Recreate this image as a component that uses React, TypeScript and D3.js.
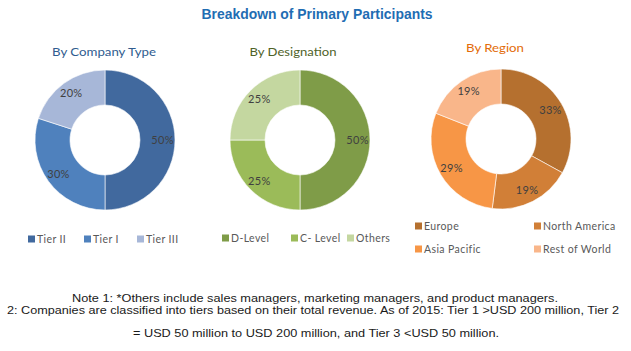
import React from 'react';
import * as d3 from 'd3';

const companyTypes = ['Tier II', 'Tier I', 'Tier III'];
const companyShares = [50, 30, 20];
const designations = ['D-Level', 'C- Level', 'Others'];
const designationShares = [50, 25, 25];
const regions = ['Europe', 'North America', 'Asia Pacific', 'Rest of World'];
const regionShares = [33, 19, 29, 19];

const notes = [
  'Note 1: *Others include sales managers, marketing managers, and product managers.',
  '2: Companies are classified into tiers based on their total revenue. As of 2015: Tier 1 >USD 200 million, Tier 2',
  '= USD 50 million to USD 200 million, and Tier 3 <USD 50 million.',
];

const W = 631;
const H = 351;
const narrow = '"Liberation Sans Narrow", "Arial Narrow", "Liberation Sans", sans-serif';
const calibriLike = 'Lato, "Open Sans", "Noto Sans", sans-serif';

interface DonutProps {
  cx: number;
  cy: number;
  labels: string[];
  values: number[];
  colors: string[];
}

const Donut: React.FC<DonutProps> = ({ cx, cy, labels, values, colors }) => {
  const outer = 70;
  const inner = 35;
  const pie = d3.pie<number>().sort(null).value(d => d)(values);
  const arc = d3.arc<d3.PieArcDatum<number>>().innerRadius(inner).outerRadius(outer);
  const labelArc = d3.arc<d3.PieArcDatum<number>>().innerRadius(inner + 5).outerRadius(outer + 5);
  const color = d3.scaleOrdinal<string, string>().domain(labels).range(colors);
  return (
    <g transform={`translate(${cx},${cy})`}>
      {pie.map((p, i) => (
        <path key={i} d={arc(p) || ''} fill={color(labels[i])} stroke="#fff" strokeWidth={0.6} />
      ))}
      {pie.map((p, i) => {
        const [x, y] = labelArc.centroid(p);
        return (
          <text key={'t' + i} x={x} y={y} dy="0.35em" textAnchor="middle"
            fontFamily={calibriLike} fontSize={11} letterSpacing={0.3} fill="#404040">
            {values[i]}%
          </text>
        );
      })}
    </g>
  );
};

interface LegendItem { label: string; color: string; x: number; y: number; }

const Legend: React.FC<{ items: LegendItem[] }> = ({ items }) => (
  <g>
    {items.map((it, i) => (
      <g key={i}>
        <rect x={it.x} y={it.y - 3.5} width={7} height={7} fill={it.color} />
        <text x={it.x + 9} y={it.y} dy="0.35em" fontFamily={calibriLike} fontSize={10.5}
          letterSpacing={0.4} fill="#595959">
          {it.label}
        </text>
      </g>
    ))}
  </g>
);

const companyColors = ['#41699E', '#4F81BD', '#A7B7D8'];
const designationColors = ['#7F9C48', '#9BBB59', '#C4D7A0'];
const regionColors = ['#B5702F', '#D17F37', '#F79646', '#F9B68A'];

export default function App() {
  const compX = [28, 84, 137];
  const desX = [222, 291, 347];
  const regX = [415, 534, 415, 534];
  const regY = [226, 226, 249, 249];
  return (
    <svg width={W} height={H} style={{ position: 'absolute', left: 0, top: 0, background: '#fff' }}>
      <text x={317} y={14} dy="0.35em" textAnchor="middle" fontFamily={narrow} fontWeight="bold"
        fontSize={14.5} fill="#1F6DB3" textLength={231} lengthAdjust="spacingAndGlyphs">
        Breakdown of Primary Participants
      </text>

      <text x={104} y={52} dy="0.35em" textAnchor="middle" fontFamily={calibriLike} fontSize={12}
        fill="#2F5C8F" textLength={104} lengthAdjust="spacingAndGlyphs">By Company Type</text>
      <text x={293} y={52} dy="0.35em" textAnchor="middle" fontFamily={calibriLike} fontSize={12}
        fill="#4F6228" textLength={87} lengthAdjust="spacingAndGlyphs">By Designation</text>
      <text x={495} y={48} dy="0.35em" textAnchor="middle" fontFamily={calibriLike} fontSize={12}
        fill="#E36C09" textLength={58} lengthAdjust="spacingAndGlyphs">By Region</text>

      <Donut cx={105} cy={140} labels={companyTypes} values={companyShares} colors={companyColors} />
      <Donut cx={300} cy={140} labels={designations} values={designationShares} colors={designationColors} />
      <Donut cx={501} cy={139} labels={regions} values={regionShares} colors={regionColors} />

      <Legend items={companyTypes.map((l, i) => ({ label: l, color: companyColors[i], x: compX[i], y: 239 }))} />
      <Legend items={designations.map((l, i) => ({ label: l, color: designationColors[i], x: desX[i], y: 238 }))} />
      <Legend items={regions.map((l, i) => ({ label: l, color: regionColors[i], x: regX[i], y: regY[i] }))} />

      <text x={315} y={298} dy="0.35em" textAnchor="middle" fontFamily={narrow} fontSize={11.5}
        fill="#1a1a1a" textLength={486} lengthAdjust="spacingAndGlyphs">{notes[0]}</text>
      <text x={313} y={310} dy="0.35em" textAnchor="middle" fontFamily={narrow} fontSize={11.5}
        fill="#1a1a1a" textLength={612} lengthAdjust="spacingAndGlyphs">{notes[1]}</text>
      <text x={316} y={333} dy="0.35em" textAnchor="middle" fontFamily={narrow} fontSize={11.5}
        fill="#1a1a1a" textLength={366} lengthAdjust="spacingAndGlyphs">{notes[2]}</text>
    </svg>
  );
}
